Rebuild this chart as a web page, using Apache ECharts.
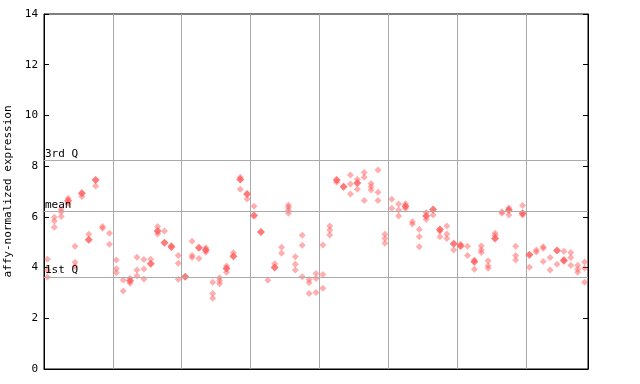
<!DOCTYPE html>
<html>
<head>
<meta charset="utf-8">
<script src="https://cdn.jsdelivr.net/npm/echarts@6/dist/echarts.min.js"></script>
<style>html,body{margin:0;padding:0;background:#fff;}#c{width:640px;height:384px;}</style>
</head>
<body>
<div id="c"></div>
<script>
// replicate values per sample (hollow diamonds)
const hollowValues = [
  [4.33,3.90,3.63],[5.98,5.84,5.59],[6.30,6.20,6.01],[6.73,6.53],[4.84,4.21,4.04],
  [6.80],[5.31],[7.22],[5.62,5.55],[5.35,4.92],
  [4.30,3.95,3.80],[3.51,3.08],[3.58,3.38],[4.41,3.90,3.68],[4.32,3.94,3.55],
  [4.33],[5.62,5.32],[5.44],[4.87],[4.48,4.17,3.54],
  [],[5.04,4.48,4.40],[4.36],[4.78,4.60],[3.42,2.98,2.79],
  [3.60,3.48,3.36],[4.06,3.82],[4.58],[7.56,7.09],[6.70],
  [6.42],[],[3.50],[4.15],[4.80,4.56],
  [6.47,6.38,6.27,6.14],[4.43,4.13,3.90],[5.27,4.88,3.64],[3.53,3.40,2.98],[3.77,3.57,3.02],
  [4.89,3.73,3.18],[5.64,5.48,5.28],[7.36],[],[7.65,7.30,6.90],
  [7.48,7.09],[7.75,7.56,6.65],[7.32,7.19,7.06],[7.85,6.97,6.65],[5.31,5.15,4.96],
  [6.69,6.34],[6.51,6.27,6.03],[6.52,6.33],[5.81,5.72],[5.50,5.22,4.82],
  [6.17,5.90],[6.07],[5.43,5.22],[5.64,5.32,5.15],[4.69],
  [4.92],[4.84,4.48],[4.30,3.93],[4.85,4.69,4.59],[4.27,4.07,3.97],
  [5.35,5.26],[6.20,6.14],[6.35,6.07],[4.84,4.48,4.30],[6.45,6.07],
  [4.01],[4.69,4.61],[4.82,4.76,4.24],[4.40,3.90],[4.13],
  [4.64,4.32],[4.59,4.40,4.09],[4.09,3.93,3.82],[4.22,3.97,3.42]
];
// highlighted values per sample (solid diamonds), null when none
const solidValues = [
  null,null,null,6.64,null, 6.93,5.10,7.45,null,null,
  null,null,3.48,null,null, 4.15,5.44,4.98,4.81,null,
  3.64,null,4.78,4.69,null, null,3.96,4.45,7.47,6.90,
  6.05,5.40,null,4.00,null, null,null,null,null,null,
  null,null,7.45,7.19,null, 7.34,null,null,null,null,
  null,null,6.42,null,null, 6.03,6.29,5.50,null,4.94,
  4.85,null,4.23,null,null, 5.15,null,6.27,null,6.14,
  4.51,null,null,null,4.67, 4.27,null,null,null
];
const sampleNames = hollowValues.map((_, i) => 'S' + (i + 1));
const quartileLines = [
  { name: '3rd Q', value: 8.23 },
  { name: 'mean', value: 6.22 },
  { name: '1st Q', value: 3.63 }
];
const yTicks = { min: 0, max: 14, interval: 2 };
const yTitle = 'affy-normalized expression';

const RED = '#ff5757';
const FONT = 'DejaVu Sans Mono';

const hollowData = [];
hollowValues.forEach((arr, i) => arr.forEach(v => hollowData.push([sampleNames[i], v])));
const solidData = [];
solidValues.forEach((v, i) => { if (v !== null) solidData.push([sampleNames[i], v]); });

const chart = echarts.init(document.getElementById('c'), null, { renderer: 'canvas' });
chart.setOption({
  animation: false,
  backgroundColor: '#fff',
  grid: { left: 44, right: 52, top: 14, bottom: 15, containLabel: false, outerBoundsMode: 'none',
          show: true, borderColor: '#000', borderWidth: 1, backgroundColor: 'transparent' },
  xAxis: {
    type: 'category',
    data: sampleNames,
    boundaryGap: true,
    axisLine: { show: true, lineStyle: { color: '#000', width: 1 } },
    axisTick: { show: false },
    axisLabel: { show: false },
    splitLine: { show: true, interval: 9, lineStyle: { color: '#aaaaaa', width: 1 } }
  },
  yAxis: [{
    type: 'value',
    min: yTicks.min, max: yTicks.max, interval: yTicks.interval,
    name: yTitle,
    nameLocation: 'middle',
    nameGap: 22,
    nameTextStyle: { fontFamily: FONT, fontSize: 11, color: '#000' },
    axisLine: { show: true, lineStyle: { color: '#000', width: 1 } },
    axisTick: { show: true, inside: true, length: 5, lineStyle: { color: '#000' } },
    axisLabel: { fontFamily: FONT, fontSize: 11, color: '#000', margin: 6 },
    splitLine: { show: false }
  }, {
    type: 'value',
    position: 'right',
    min: yTicks.min, max: yTicks.max, interval: yTicks.interval,
    axisLine: { show: true, lineStyle: { color: '#000', width: 1 } },
    axisTick: { show: true, inside: true, length: 5, lineStyle: { color: '#000' } },
    axisLabel: { show: false },
    splitLine: { show: false }
  }],
  series: [{
    type: 'scatter',
    data: hollowData,
    symbol: 'diamond',
    symbolSize: 7,
    itemStyle: { color: 'rgba(255,87,87,0.6)' },
    silent: true,
    z: 3,
    markLine: {
      silent: true,
      symbol: 'none',
      lineStyle: { color: '#aaaaaa', width: 1, type: 'solid' },
      label: {
        show: true,
        position: 'insideStartTop',
        distance: [1, 1],
        formatter: p => p.name,
        fontFamily: FONT, fontSize: 11, color: '#000'
      },
      data: quartileLines.map(q => ({ name: q.name, yAxis: q.value }))
    }
  }, {
    type: 'scatter',
    data: solidData,
    symbol: 'diamond',
    symbolSize: 8,
    itemStyle: { color: RED },
    silent: true,
    z: 4
  }]
});
</script>
</body>
</html>
